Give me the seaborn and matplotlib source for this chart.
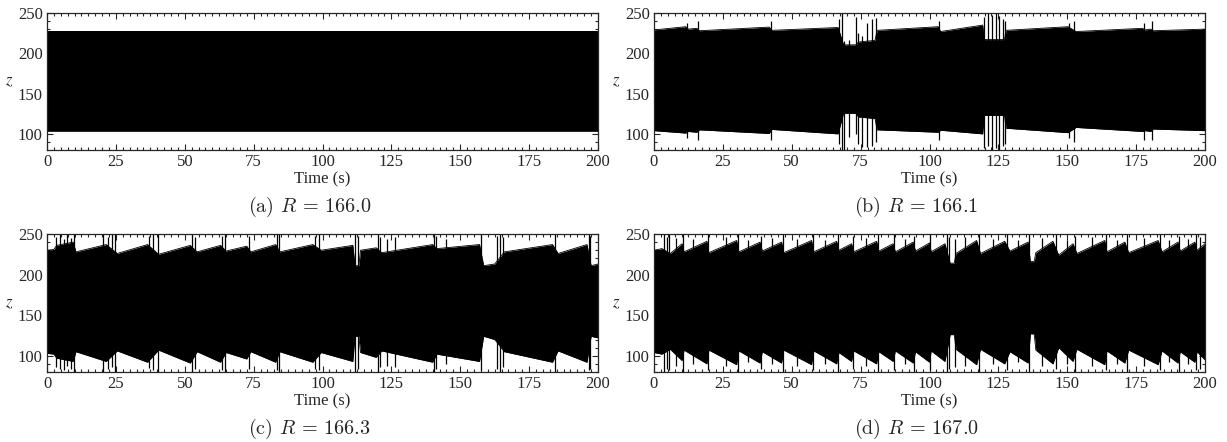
import matplotlib
matplotlib.use("Agg")
import matplotlib.pyplot as plt
from matplotlib.ticker import MultipleLocator
import seaborn as sns

# laminar phases of the oscillation band: (t_start, t_end, top_start, top_end, bottom_start, bottom_end)
# spikes: (t, top, bottom) single excursions during the bursts

# (a) R = 166.0 -- periodic, constant band
phases_a = [(0, 200, 228, 228, 104, 104)]
spikes_a = []

# (b) R = 166.1
phases_b = [(0, 11.5, 229, 233, 104, 101), (12.5, 15.5, 230, 231, 103, 102),
            (16.5, 41.8, 228, 232.5, 105, 100.5), (42.8, 66.8, 228.5, 232, 105.5, 100),
            (68.8, 73.3, 210.5, 210.5, 125.5, 125.5), (74.2, 80.2, 214, 216, 121, 119),
            (81, 103.2, 228.5, 233, 105, 102), (104, 119.3, 227, 235, 104.5, 100),
            (119.9, 127.2, 217, 217, 123, 123), (127.8, 150.3, 228.5, 233, 107, 101.5),
            (153.2, 177.3, 227, 231, 108, 103), (178.2, 180.3, 229, 230, 104, 103),
            (181.2, 200, 228, 230, 106, 104)]
spikes_b = [(12.0, 238, 94.5), (15.9, 240, 92.5), (42.3, 240, 92.5), (67.3, 243, 88),
            (68.3, 250, 80), (69.0, 215, 80), (70.6, 216, 96), (73.5, 245, 100),
            (74.0, 225, 88), (75.6, 222, 84), (77.2, 238, 84), (79.0, 243, 85),
            (80.5, 244, 90), (103.6, 240, 92), (119.8, 245, 82), (121.2, 250, 85),
            (122.6, 248, 80), (124.0, 250, 83), (125.3, 246, 80), (126.6, 243, 85),
            (127.4, 240, 88), (150.8, 238, 95), (152.5, 240, 90), (177.7, 238, 92),
            (180.7, 240, 93)]

# (c) R = 166.3
phases_c = [(0, 2.5, 230, 231, 103, 102), (3.5, 9.5, 236, 240, 97, 93),
            (10.5, 21.5, 228, 237, 105, 93), (25.5, 36.5, 226, 237, 106, 92),
            (40.5, 52, 225, 236, 107, 91), (54.5, 63, 228, 236, 105, 92),
            (65, 72.5, 229, 235, 104, 96), (74, 83, 228, 237, 105, 92),
            (84.5, 96.5, 228, 237, 105, 92), (99.5, 111, 230, 236, 104, 93),
            (111.8, 113.2, 211, 211, 124, 124), (113.8, 119.5, 230, 233, 104, 98),
            (121.5, 140, 227, 237, 106, 92), (141.5, 157, 232, 237, 102, 93),
            (158.5, 162.5, 211, 213, 124, 120), (166, 183.5, 228, 237, 105, 92),
            (185.5, 196, 226, 237, 106, 92), (197.5, 200, 211, 213, 124, 122)]
spikes_c = [(3.2, 246, 86), (4.6, 250, 84), (6.0, 244, 82), (7.4, 250, 88), (8.8, 245, 84),
            (9.7, 250, 80), (20.5, 250, 80), (22.2, 246, 84), (23.6, 250, 86), (24.8, 250, 80),
            (37.2, 248, 85), (38.6, 250, 82), (40.3, 250, 80), (52.6, 250, 80), (53.6, 246, 84),
            (63.5, 248, 82), (64.5, 250, 80), (73.2, 247, 84), (83.5, 250, 82), (84.2, 250, 80),
            (97.2, 248, 84), (98.6, 250, 82), (111.8, 250, 80), (113.0, 248, 84),
            (120.3, 250, 80), (121.0, 246, 86), (123.5, 244, 88), (126.4, 246, 86),
            (140.6, 250, 80), (141.1, 248, 84), (145.0, 244, 90), (157.6, 250, 82),
            (163.2, 248, 84), (164.6, 250, 80), (165.6, 246, 86), (184.5, 250, 80),
            (196.6, 250, 82), (197.2, 248, 84)]

# (d) R = 167.0
phases_d = [(0, 2.9, 230, 232, 104, 102), (5.9, 10.2, 226, 238, 108, 94),
            (10.9, 19.2, 228, 241, 107, 90), (19.9, 30.0, 227, 242, 107, 89),
            (30.8, 38.5, 228, 240, 106, 91), (39.3, 46.3, 229, 240, 105, 91),
            (47.1, 57.2, 227, 242, 107, 89), (58.0, 66.3, 228, 241, 106, 90),
            (67.1, 71.7, 230, 238, 104, 93), (72.5, 80.8, 228, 241, 106, 90),
            (81.6, 86.8, 229, 238, 105, 93), (87.6, 94.1, 228, 240, 106, 91),
            (94.9, 100.0, 229, 239, 105, 92), (100.6, 105.6, 228, 238, 106, 93),
            (107.5, 109.0, 214, 214, 126, 126), (109.6, 117.1, 226, 242, 108, 89),
            (118.5, 127.3, 226, 241, 108, 90), (129.2, 135.8, 229, 240, 105, 91),
            (136.6, 138.0, 216, 216, 127, 127), (138.6, 144.8, 227, 241, 107, 90),
            (146.9, 152.1, 224, 238, 110, 93), (153.5, 163.6, 226, 242, 108, 89),
            (164.4, 170.9, 228, 240, 106, 91), (172.3, 183.0, 227, 242, 107, 89),
            (184.4, 190.2, 228, 240, 106, 91), (191.0, 196.3, 229, 240, 105, 92),
            (197.1, 200, 230, 238, 105, 95)]
spikes_d = [(3.5, 250, 80), (4.6, 246, 84), (5.4, 250, 82), (10.5, 250, 80), (19.5, 250, 82),
            (30.4, 250, 80), (38.9, 248, 84), (46.7, 250, 80), (57.6, 250, 82), (66.7, 250, 80),
            (72.1, 248, 84), (81.2, 250, 80), (87.2, 250, 82), (94.5, 248, 80), (100.3, 250, 82),
            (106.2, 250, 80), (107.0, 246, 84), (109.2, 244, 86), (117.8, 250, 80),
            (128.3, 250, 82), (136.2, 250, 80), (145.8, 250, 84), (152.8, 248, 80),
            (164.0, 250, 82), (171.6, 250, 80), (183.7, 250, 82), (190.6, 248, 80),
            (196.7, 250, 82), (198.2, 246, 84), (8.0, 245, 88), (14.0, 244, 90),
            (26.0, 246, 88), (34.0, 243, 92), (43.0, 245, 90), (52.0, 244, 88), (62.0, 243, 90),
            (77.0, 245, 88), (91.0, 244, 90), (113.0, 246, 88), (123.0, 244, 90),
            (132.0, 243, 92), (141.0, 245, 88), (150.0, 242, 90), (159.0, 246, 88),
            (168.0, 243, 90), (178.0, 245, 88), (187.0, 243, 92), (194.0, 244, 90)]

captions = ["(a) $R$ = 166.0", "(b) $R$ = 166.1", "(c) $R$ = 166.3", "(d) $R$ = 167.0"]

sns.set_style("ticks")
plt.rcParams["font.family"] = "serif"
plt.rcParams["font.serif"] = ["Liberation Serif"]
plt.rcParams["mathtext.fontset"] = "stix"

fig = plt.figure(figsize=(12.27, 4.42), dpi=100)
W, H = 1227, 442
# axes boxes in pixels: left, top, right, bottom
boxes = [(47, 13, 598, 150), (654, 13, 1205, 150),
         (47, 234, 598, 372), (654, 234, 1205, 372)]

for box, phases, spikes, cap in zip(boxes, [phases_a, phases_b, phases_c, phases_d],
                                   [spikes_a, spikes_b, spikes_c, spikes_d], captions):
    l, t, r, b = box
    ax = fig.add_axes([l / W, 1 - b / H, (r - l) / W, (b - t) / H])

    tt, hi, lo = [], [], []
    for t0, t1, h0, h1, l0, l1 in phases:
        tt += [t0, t1]
        hi += [h0, h1]
        lo += [l0, l1]
    ax.fill_between(tt, lo, hi, color="black", lw=0)
    sns.lineplot(x=tt, y=hi, ax=ax, color="black", lw=0.6, sort=False)
    sns.lineplot(x=tt, y=lo, ax=ax, color="black", lw=0.6, sort=False)
    if spikes:
        st, sh, sl = zip(*spikes)
        ax.vlines(st, sl, sh, color="black", lw=0.9)

    ax.set_xlim(0, 200)
    ax.set_ylim(80, 250)
    ax.xaxis.set_major_locator(MultipleLocator(25))
    ax.xaxis.set_minor_locator(MultipleLocator(2.5))
    ax.yaxis.set_major_locator(MultipleLocator(50))
    ax.yaxis.set_minor_locator(MultipleLocator(10))
    ax.tick_params(which="both", direction="in", top=True, right=True, labelsize=12,
                   width=0.8, pad=3)
    ax.tick_params(which="major", length=4.5)
    ax.tick_params(which="minor", length=2.5)
    for s in ax.spines.values():
        s.set_linewidth(0.9)
    ax.set_xlabel("Time (s)", fontsize=12, labelpad=1)
    ax.set_ylabel("$z$", fontsize=12, rotation=0, va="center")
    ax.yaxis.set_label_coords(-0.068, 0.5)

    # subfigure caption, centred on the subfigure (axes plus tick labels)
    fig.text(((l + r) / 2 - 13) / W, 1 - (b + 57) / H, cap, ha="center", va="center",
             fontsize=14.5, family="cmr10", math_fontfamily="cm")

fig.savefig("out.png", dpi=100)
